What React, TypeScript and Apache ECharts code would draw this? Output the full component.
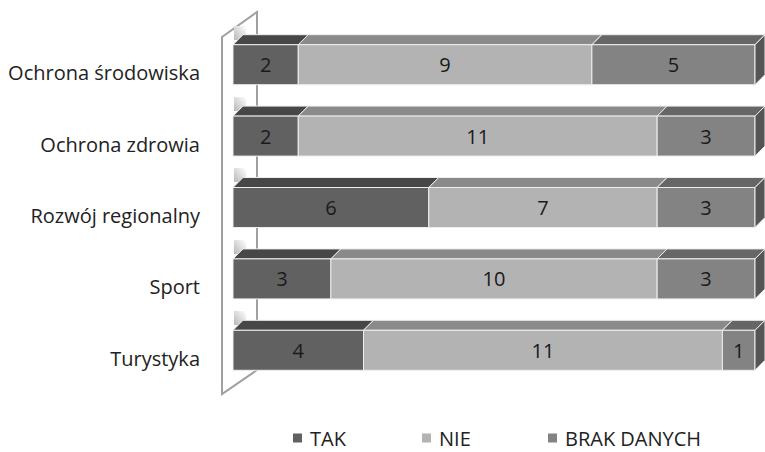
import React, { useEffect, useRef } from "react";
import * as echarts from "echarts";

const categories = [
  "Ochrona środowiska",
  "Ochrona zdrowia",
  "Rozwój regionalny",
  "Sport",
  "Turystyka",
];
const tak = [2, 2, 6, 3, 4];
const nie = [9, 11, 7, 10, 11];
const brak = [5, 3, 3, 3, 1];

const seriesNames = ["TAK", "NIE", "BRAK DANYCH"];
const frontColors = ["#616161", "#b3b3b3", "#838383"];
const topColors = ["#474747", "#8a8a8a", "#666666"];
const sideColor = "#555555";

const FONT = "Open Sans";
const DEPTH = 10;

function buildRows(values: number[][]) {
  // [start, end, categoryIndex, value] for every segment of every stack
  const out: number[][][] = values.map(() => []);
  categories.forEach((_, ci) => {
    let acc = 0;
    values.forEach((arr, si) => {
      out[si].push([acc, acc + arr[ci], ci, arr[ci]]);
      acc += arr[ci];
    });
  });
  return out;
}

export default function App() {
  const ref = useRef<HTMLDivElement>(null);

  useEffect(() => {
    if (!ref.current) return;
    const chart = echarts.init(ref.current, null, { renderer: "svg" });
    const rows = buildRows([tak, nie, brak]);

    const makeSeries = (si: number) => ({
      type: "custom",
      name: seriesNames[si],
      itemStyle: { color: frontColors[si] },
      encode: { x: [0, 1], y: 2 },
      data: rows[si],
      z: 10,
      renderItem: (params: any, api: any) => {
        const start = api.value(0);
        const end = api.value(1);
        const cat = api.value(2);
        const val = api.value(3);
        const p0 = api.coord([start, cat]);
        const p1 = api.coord([end, cat]);
        const h = api.size([0, 1])[1] * 0.56;
        const x0 = p0[0];
        const x1 = p1[0];
        const yt = p0[1] - h / 2;
        const yb = p0[1] + h / 2;
        const edge = "#eeeeee";
        const children: any[] = [
          {
            type: "polygon",
            shape: {
              points: [
                [x0, yt],
                [x0 + DEPTH, yt - DEPTH],
                [x1 + DEPTH, yt - DEPTH],
                [x1, yt],
              ],
            },
            style: { fill: topColors[si], stroke: edge, lineWidth: 1 },
          },
          {
            type: "rect",
            shape: { x: x0, y: yt, width: x1 - x0, height: h },
            style: { fill: frontColors[si], stroke: edge, lineWidth: 1 },
          },
        ];
        if (si === 2) {
          children.push({
            type: "polygon",
            shape: {
              points: [
                [x1, yt],
                [x1 + DEPTH, yt - DEPTH],
                [x1 + DEPTH, yb - DEPTH],
                [x1, yb],
              ],
            },
            style: { fill: sideColor, stroke: edge, lineWidth: 1 },
          });
        }
        children.push({
          type: "text",
          style: {
            x: (x0 + x1) / 2,
            y: p0[1],
            text: String(val),
            align: "center",
            verticalAlign: "middle",
            fill: "#1a1a1a",
            font: `20px '${FONT}'`,
          },
        });
        return { type: "group", children };
      },
    });

    // left side wall of the 3D plot area
    const wallLeft = 222;
    const wallRight = 257;
    const wall: any[] = [
      {
        type: "polygon",
        z: 1,
        shape: {
          points: [
            [wallLeft, 37],
            [wallRight, 12],
            [wallRight, 370],
            [wallLeft, 394],
          ],
        },
        style: { fill: "#ffffff", stroke: "#a0a0a0", lineWidth: 2 },
      },
    ];
    const gaps = [27, 98, 169, 241, 312];
    gaps.forEach((gy) => {
      wall.push({
        type: "rect",
        z: 2,
        shape: { x: 234, y: gy - 1, width: 12, height: 14 },
        style: {
          fill: new echarts.graphic.LinearGradient(0, 1, 1, 0, [
            { offset: 0, color: "#b8b8b8" },
            { offset: 1, color: "#ffffff" },
          ]),
        },
      });
    });

    chart.setOption({
      animation: false,
      backgroundColor: "#ffffff",
      textStyle: { fontFamily: FONT },
      grid: { left: 233, right: 10, top: 29, bottom: 66 },
      xAxis: {
        type: "value",
        min: 0,
        max: 16,
        show: false,
      },
      yAxis: {
        type: "category",
        data: categories,
        inverse: true,
        axisLine: { show: false },
        axisTick: { show: false },
        splitLine: { show: false },
        axisLabel: {
          margin: 33,
          fontSize: 20,
          color: "#222222",
          fontFamily: FONT,
          verticalAlign: "top",
          lineHeight: 16,
        },
      },
      legend: [0, 1, 2].map((i) => ({
        data: [seriesNames[i]],
        left: [293, 422, 548][i],
        top: 428,
        padding: 0,
        icon: "rect",
        itemWidth: 9,
        itemHeight: 9,
        itemGap: 0,
        textStyle: {
          fontSize: 20,
          lineHeight: 20,
          color: "#222222",
          fontFamily: FONT,
          padding: [0, 0, 0, 3],
        },
      })),
      graphic: wall,
      series: [makeSeries(0), makeSeries(1), makeSeries(2)],
    });

    return () => chart.dispose();
  }, []);

  return (
    <div
      ref={ref}
      style={{ position: "absolute", left: 0, top: 0, width: 765, height: 452 }}
    />
  );
}
